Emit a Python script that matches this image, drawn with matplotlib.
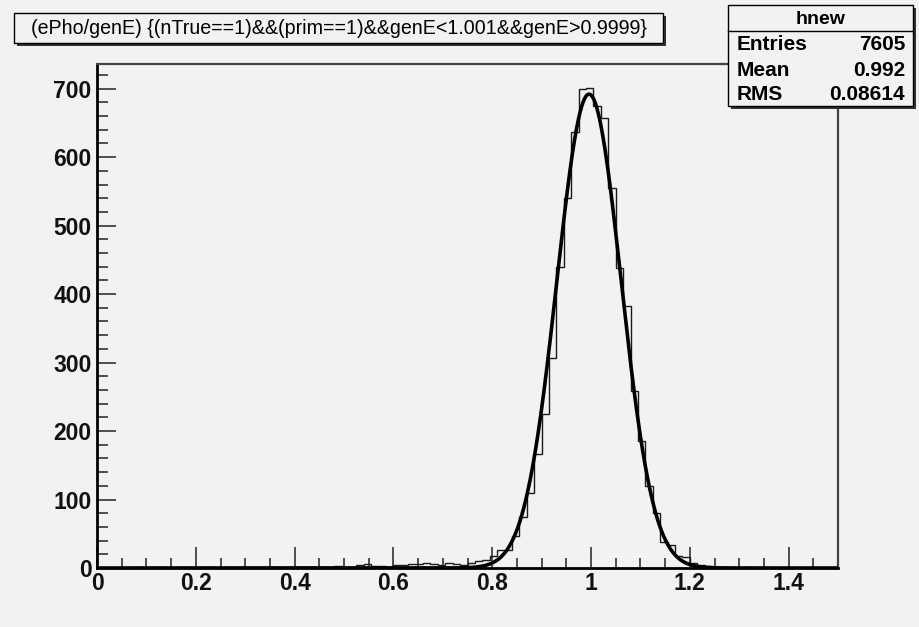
import numpy as np
import matplotlib
matplotlib.use("Agg")
import matplotlib.pyplot as plt
from matplotlib.patches import Rectangle
from matplotlib.ticker import MultipleLocator

# ---------------- data ----------------
bin_lo, bin_hi, n_bins = 0.0, 1.5, 100
counts = [
    0, 0, 0, 0, 0, 1, 0, 1, 0, 1,
    1, 0, 1, 0, 0, 1, 0, 1, 0, 1,
    1, 0, 1, 2, 1, 0, 1, 2, 1, 1,
    2, 1, 3, 2, 1, 5, 6, 3, 3, 2,
    4, 5, 6, 6, 7, 6, 5, 7, 6, 5, 8,
    10, 12, 18, 27, 27, 47, 75, 109, 167, 225,
    307, 440, 540, 637, 699, 701, 674, 657, 555, 438,
    383, 258, 186, 120, 80, 38, 33, 17, 16, 8, 4,
    3, 2, 1, 1, 0, 1, 0, 0, 0, 0, 0, 0, 0, 0, 0, 0, 0, 0,
]
fit_const, fit_mean, fit_sigma = 692.0, 0.996, 0.065
x_ticks = [0, 0.2, 0.4, 0.6, 0.8, 1.0, 1.2, 1.4]
x_tick_labels = ["0", "0.2", "0.4", "0.6", "0.8", "1", "1.2", "1.4"]
y_ticks = [0, 100, 200, 300, 400, 500, 600, 700]
y_tick_labels = ["0", "100", "200", "300", "400", "500", "600", "700"]
y_top = 736
title = "(ePho/genE) {(nTrue==1)&&(prim==1)&&genE<1.001&&genE>0.9999}"
stats_name = "hnew"
stats_labels = ["Entries", "Mean", "RMS"]
stats_values = ["7605", "0.992", "0.08614"]

# ---------------- layout ----------------
W, H, DPI = 919, 627, 100
BG = "#f2f2f2"
FONT = "Liberation Sans"

fig = plt.figure(figsize=(W / DPI, H / DPI), dpi=DPI, facecolor=BG)


def fx(px):
    return px / W


def fy(py):
    return 1 - py / H


ax = fig.add_axes([fx(97), fy(568), fx(838) - fx(97), fy(64) - fy(568)])
ax.set_facecolor(BG)

edges = np.linspace(bin_lo, bin_hi, n_bins + 1)
ax.stairs(counts, edges, color="#1a1a1a", lw=1.0, baseline=0, zorder=3)
xf = np.linspace(bin_lo, bin_hi, 1500)
yf = fit_const * np.exp(-0.5 * ((xf - fit_mean) / fit_sigma) ** 2)
ax.plot(xf, yf, color="black", lw=2.6, zorder=4, solid_capstyle="round")

ax.set_xlim(bin_lo, bin_hi)
ax.set_ylim(0, y_top)
ax.set_xticks(x_ticks)
ax.set_xticklabels(x_tick_labels)
ax.set_yticks(y_ticks)
ax.set_yticklabels(y_tick_labels)
ax.xaxis.set_minor_locator(MultipleLocator(0.05))
ax.yaxis.set_minor_locator(MultipleLocator(20))
ax.tick_params(which="both", direction="in", top=False, right=False, color="#222222")
ax.tick_params(axis="x", which="major", length=15, width=1.1, pad=3)
ax.tick_params(axis="x", which="minor", length=7.5, width=1.1)
ax.tick_params(axis="y", which="major", length=14, width=1.1, pad=4)
ax.tick_params(axis="y", which="minor", length=8, width=1.1)
for lab in ax.get_xticklabels() + ax.get_yticklabels():
    lab.set_fontfamily(FONT)
    lab.set_fontweight("bold")
    lab.set_fontsize(16.5)
    lab.set_color("#111111")
for side in ("left", "bottom"):
    ax.spines[side].set_color("black")
    ax.spines[side].set_linewidth(2.0)
for side in ("top", "right"):
    ax.spines[side].set_color("#444444")
    ax.spines[side].set_linewidth(1.6)


def box(x0, y0, x1, y1, shadow=3):
    fig.patches.append(Rectangle((fx(x0 + shadow), fy(y1 + shadow)),
                                 fx(x1 - x0), fy(y0) - fy(y1),
                                 transform=fig.transFigure, facecolor="#333333",
                                 edgecolor="none", zorder=10))
    fig.patches.append(Rectangle((fx(x0), fy(y1)), fx(x1 - x0), fy(y0) - fy(y1),
                                 transform=fig.transFigure, facecolor=BG,
                                 edgecolor="black", lw=1.0, zorder=11))


# title box
box(14, 13, 663, 43)
t = fig.text(fx(339), fy(28.5), title, ha="center", va="center",
             fontfamily=FONT, fontsize=14, color="black", zorder=12)
fig.canvas.draw()
w = t.get_window_extent().width
t.set_fontsize(14 * 615 / w)

# stats box
box(728, 5, 913, 106)
fig.lines.append(plt.Line2D([fx(728), fx(913)], [fy(31), fy(31)],
                            transform=fig.transFigure, color="black", lw=1.0, zorder=12))
fig.text(fx(821), fy(19), stats_name, ha="center", va="center",
         fontfamily=FONT, fontweight="bold", fontsize=14, zorder=12)
row_y = [45, 70, 95]
for yy, lab, val in zip(row_y, stats_labels, stats_values):
    fig.text(fx(737), fy(yy), lab, ha="left", va="center",
             fontfamily=FONT, fontweight="bold", fontsize=15, zorder=12)
    fig.text(fx(905), fy(yy), val, ha="right", va="center",
             fontfamily=FONT, fontweight="bold", fontsize=15, zorder=12)

fig.savefig("out.png", dpi=DPI, facecolor=BG)
